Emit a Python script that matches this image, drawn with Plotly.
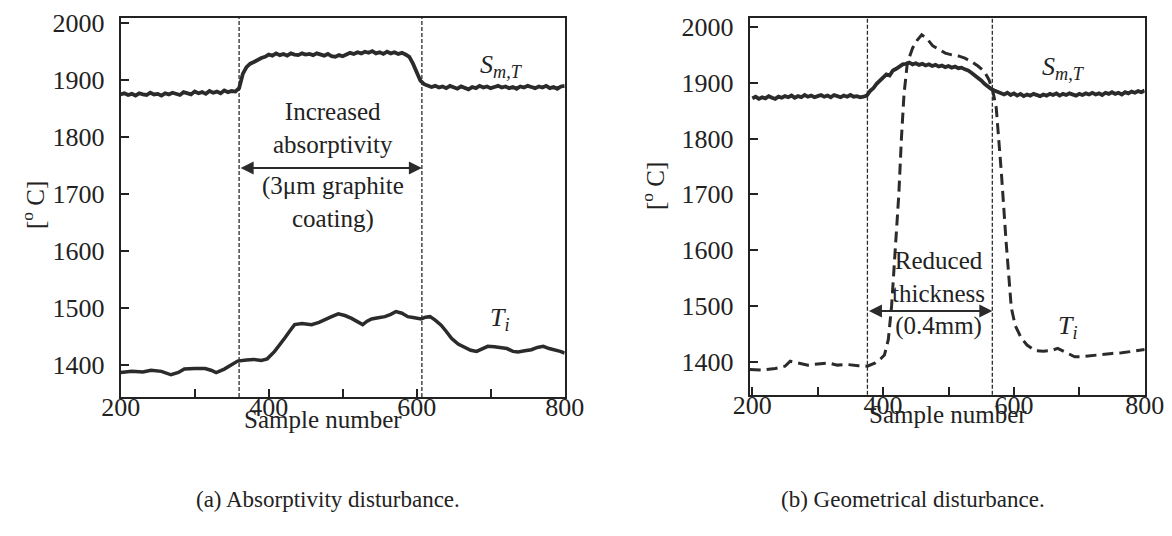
import plotly.graph_objects as go

# ---------------- data ----------------
# (a) Absorptivity disturbance
a_s_x = list(range(200, 805, 5))
a_s_y = [1874, 1876, 1873, 1875, 1872, 1876, 1874, 1873, 1877, 1874,
         1875, 1872, 1876, 1874, 1877, 1875, 1873, 1878, 1876, 1874,
         1879, 1876, 1878, 1875, 1880, 1877, 1879, 1876, 1881, 1878,
         1880, 1879,
         1885, 1910, 1922, 1928, 1931, 1935, 1938, 1940, 1944, 1942,
         1946, 1943, 1945, 1942, 1946, 1944, 1943, 1946, 1944, 1945,
         1943, 1946, 1944, 1942, 1945, 1941, 1940, 1943, 1941, 1944,
         1947, 1945, 1948, 1946, 1949, 1947, 1950, 1946, 1948, 1945,
         1949, 1946, 1948, 1945, 1947, 1944, 1940, 1928, 1912, 1898,
         1892, 1889, 1887, 1889, 1886, 1888, 1885, 1889, 1887, 1884,
         1888, 1886, 1883, 1887, 1885, 1889, 1886, 1888, 1885, 1887,
         1889, 1886, 1888, 1885, 1887, 1884, 1888, 1886, 1889, 1887,
         1885, 1888, 1886, 1889, 1885, 1887, 1884, 1888, 1889]

a_t_x = [200, 215, 230, 241, 255, 268, 278, 286, 300, 314, 322, 329, 340, 350,
         358, 370, 380, 390, 398, 408, 415, 422, 428, 435, 445, 458, 468, 476,
         485, 494, 503, 512, 520, 527, 533, 539, 548, 557, 565, 572, 580, 588,
         597, 606, 612, 618, 625, 633, 640, 647, 656, 665, 673, 681, 689, 696,
         705, 713, 722, 730, 737, 746, 755, 763, 771, 779, 787, 794, 800]
a_t_y = [1386, 1388, 1387, 1390, 1388, 1382, 1386, 1392, 1393, 1393, 1390, 1386,
         1392, 1400, 1406, 1408, 1409, 1407, 1410, 1423, 1434, 1447, 1458, 1470,
         1472, 1470, 1474, 1478, 1484, 1489, 1486, 1481, 1475, 1470, 1476, 1480,
         1482, 1484, 1488, 1493, 1490, 1484, 1482, 1480, 1483, 1484, 1478, 1469,
         1458, 1446, 1436, 1430, 1425, 1423, 1428, 1432, 1431, 1430, 1428, 1423,
         1422, 1424, 1426, 1430, 1432, 1428, 1426, 1423, 1420]

# (b) Geometrical disturbance
b_s_x = list(range(200, 805, 5))
b_s_y = [1872, 1875, 1871, 1874, 1872, 1876, 1873, 1871, 1875, 1873,
         1876, 1874, 1877, 1873, 1876, 1874, 1878, 1875, 1877, 1874,
         1876, 1878, 1875, 1877, 1874, 1878, 1876, 1874, 1877, 1875,
         1878, 1875, 1876, 1874, 1875, 1877, 1885, 1890, 1898, 1903,
         1910, 1915, 1913, 1922, 1925, 1930, 1933, 1934, 1936, 1933,
         1935, 1932, 1934, 1931, 1933, 1930, 1932, 1929, 1931, 1928,
         1930, 1927, 1929, 1926, 1927, 1924, 1922, 1918, 1914, 1909,
         1904, 1898, 1893, 1889, 1886, 1884, 1881, 1879, 1882, 1878,
         1881, 1877, 1880, 1876, 1879, 1877, 1880, 1878, 1876, 1879,
         1877, 1880, 1878, 1881, 1877, 1880, 1878, 1881, 1879, 1877,
         1880, 1878, 1881, 1879, 1882, 1879, 1881, 1878, 1882, 1880,
         1883, 1880, 1882, 1879, 1883, 1881, 1884, 1882, 1885, 1883,
         1886]

b_t_x = [196, 215, 235, 250, 258, 268, 285, 300, 316, 330, 346, 362, 376, 388,
         396, 402, 408, 413, 419, 424, 428, 432, 437, 445, 452, 459, 467, 476,
         485, 495, 505, 515, 525, 535, 545, 555, 562, 568, 573, 577, 581, 588,
         596, 602, 611, 620, 632, 645, 657, 667, 680, 693, 704, 718, 734, 750,
         765, 780, 792, 800]
b_t_y = [1386, 1385, 1388, 1392, 1401, 1398, 1394, 1396, 1398, 1394, 1395, 1393,
         1392, 1398, 1405, 1412, 1440, 1500, 1600, 1700, 1800, 1880, 1935, 1962,
         1976, 1986, 1979, 1966, 1960, 1953, 1950, 1948, 1944, 1938, 1930, 1920,
         1905, 1884, 1855, 1800, 1736, 1616, 1497, 1465, 1443, 1430, 1420, 1419,
         1420, 1424, 1416, 1409, 1409, 1411, 1413, 1415, 1416, 1419, 1421, 1422]

a_marks = [360, 607]
b_marks = [376, 567]
x_ticks = [200, 300, 400, 500, 600, 700, 800]
x_tick_text = ["200", "", "400", "", "600", "", "800"]
y_ticks = [1400, 1500, 1600, 1700, 1800, 1900, 2000]

# ---------------- figure ----------------
W, H = 1172, 536
INK = "#2b2b2b"
FONT = "Liberation Serif"

def px(x):
    return x / W

def py(y):
    return 1 - y / H

fig = go.Figure()

fig.add_trace(go.Scatter(x=a_s_x, y=a_s_y, mode="lines", xaxis="x", yaxis="y",
                         line=dict(color=INK, width=3.8), showlegend=False))
fig.add_trace(go.Scatter(x=a_t_x, y=a_t_y, mode="lines", xaxis="x", yaxis="y",
                         line=dict(color=INK, width=3.5), showlegend=False))
fig.add_trace(go.Scatter(x=b_s_x, y=b_s_y, mode="lines", xaxis="x2", yaxis="y2",
                         line=dict(color=INK, width=3.8), showlegend=False))
fig.add_trace(go.Scatter(x=b_t_x, y=b_t_y, mode="lines", xaxis="x2", yaxis="y2",
                         line=dict(color=INK, width=3, dash="11px,6px"),
                         showlegend=False))

axis_common = dict(showline=True, linecolor="#222", linewidth=1.8, mirror=True,
                   ticks="inside", ticklen=8, tickwidth=1.5, tickcolor="#222",
                   showgrid=False, zeroline=False, automargin=False,
                   tickfont=dict(family=FONT, size=26, color="#222"))

fig.update_layout(
    width=W, height=H,
    margin=dict(l=0, r=0, t=0, b=0),
    paper_bgcolor="white", plot_bgcolor="white",
    font=dict(family=FONT, color="#222"),
    xaxis=dict(domain=[px(112.7), px(556.7)], range=[200, 800], anchor="y",
               tickvals=x_ticks, ticktext=x_tick_text, ticklabelstandoff=-14,
               **axis_common),
    yaxis=dict(domain=[py(389), py(9.5)], range=[1343, 2009], anchor="x",
               tickvals=y_ticks, ticklabelstandoff=9, **axis_common),
    xaxis2=dict(domain=[px(741.7), px(1136.7)], range=[196, 800], anchor="y2",
                tickvals=x_ticks, ticktext=x_tick_text, ticklabelstandoff=-14,
                **axis_common),
    yaxis2=dict(domain=[py(386.7), py(10)], range=[1341, 2016], anchor="x2",
                tickvals=y_ticks, ticklabelstandoff=9, **axis_common),
)

shapes = []
for xv in a_marks:
    shapes.append(dict(type="line", xref="x", yref="y domain", x0=xv, x1=xv,
                       y0=0, y1=1, line=dict(color=INK, width=1.3, dash="4px,2px")))
for xv in b_marks:
    shapes.append(dict(type="line", xref="x2", yref="y2 domain", x0=xv, x1=xv,
                       y0=0, y1=1, line=dict(color=INK, width=1.3, dash="4px,2px")))
fig.update_layout(shapes=shapes)

ann = []
# double arrows
ann.append(dict(x=a_marks[1], y=1745, ax=a_marks[0], ay=1745, xref="x", yref="y",
                axref="x", ayref="y", text="", showarrow=True, arrowhead=2,
                arrowside="end+start", arrowsize=1.3, arrowwidth=2, arrowcolor=INK))
ann.append(dict(x=b_marks[1], y=1491, ax=b_marks[0], ay=1491, xref="x2", yref="y2",
                axref="x2", ayref="y2", text="", showarrow=True, arrowhead=2,
                arrowside="end+start", arrowsize=1.3, arrowwidth=2, arrowcolor=INK))

txt = dict(family=FONT, size=25, color="#222")
C = dict(showarrow=False, xanchor="center", yanchor="middle")
ann.append(dict(x=487, y=1815, xref="x", yref="y", text="Increased<br>absorptivity",
                font=txt, **C))
ann.append(dict(x=487, y=1684, xref="x", yref="y", text="(3μm graphite<br>coating)",
                font=txt, **C))
ann.append(dict(x=485, y=1522, xref="x2", yref="y2",
                text="Reduced<br>thickness<br>(0.4mm)", font=txt, **C))

lab = dict(family=FONT, size=26, color="#222")
ann.append(dict(x=714, y=1923, xref="x", yref="y",
                text="<i>S</i><sub><i>m,T</i></sub>", font=lab, **C))
ann.append(dict(x=712, y=1480, xref="x", yref="y",
                text="<i>T</i><sub><i>i</i></sub>", font=lab, **C))
ann.append(dict(x=676, y=1927, xref="x2", yref="y2",
                text="<i>S</i><sub><i>m,T</i></sub>", font=lab, **C))
ann.append(dict(x=682, y=1462, xref="x2", yref="y2",
                text="<i>T</i><sub><i>i</i></sub>", font=lab, **C))

# axis titles
ann.append(dict(x=px(25), y=py(197), xref="paper", yref="paper",
                text="[<sup>o</sup> C]", textangle=-90, font=txt, **C))
ann.append(dict(x=px(645), y=py(178), xref="paper", yref="paper",
                text="[<sup>o</sup> C]", textangle=-90, font=txt, **C))
ann.append(dict(x=px(315), y=py(411), xref="paper", yref="paper",
                text="Sample number", font=txt, **C))
ann.append(dict(x=px(940), y=py(406), xref="paper", yref="paper",
                text="Sample number", font=txt, **C))

cap = dict(family=FONT, size=23, color="#222")
ann.append(dict(x=px(320), y=py(491), xref="paper", yref="paper",
                text="(a) Absorptivity disturbance.", font=cap, **C))
ann.append(dict(x=px(905), y=py(491), xref="paper", yref="paper",
                text="(b) Geometrical disturbance.", font=cap, **C))

fig.update_layout(annotations=ann)
fig.write_html("out.html")
